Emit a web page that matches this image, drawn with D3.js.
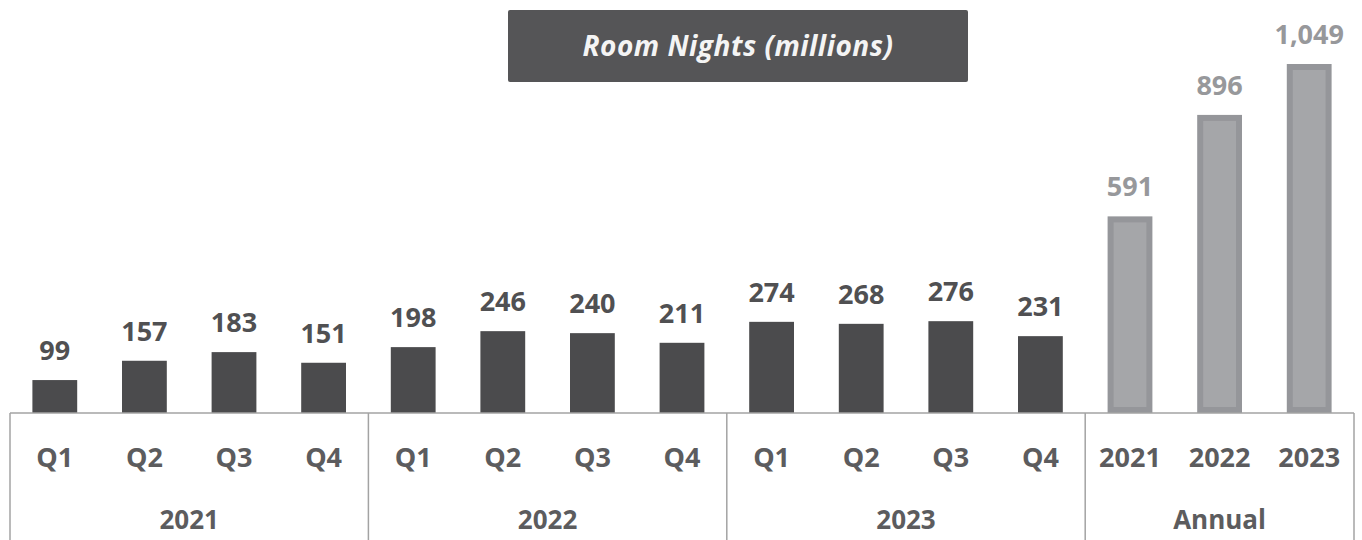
<!DOCTYPE html>
<html>
<head>
<meta charset="utf-8">
<script src="https://cdn.jsdelivr.net/npm/d3@7"></script>
<style>
  body { margin: 0; background: #fff; }
  svg { display: block; font-family: 'Open Sans', sans-serif; }
</style>
</head>
<body>
<svg id="chart"></svg>
<script>
// data
const periods = ['Q1', 'Q2', 'Q3', 'Q4', 'Q1', 'Q2', 'Q3', 'Q4', 'Q1', 'Q2', 'Q3', 'Q4', '2021', '2022', '2023']
const roomNights = [99, 157, 183, 151, 198, 246, 240, 211, 274, 268, 276, 231, 591, 896, 1049]
const groups = ['2021', '2022', '2023', 'Annual']
const groupSizes = [4, 4, 4, 3]
const annualFrom = 12 // index where the annual bars start

const width = 1362
const height = 540
const left = 10
const right = 1354
const baseline = 413

const svg = d3.select('#chart').attr('width', width).attr('height', height)

const x = d3.scaleBand()
  .domain(d3.range(roomNights.length))
  .range([left, right])
  .paddingInner(0.5)
  .paddingOuter(0.25)

const y = d3.scaleLinear()
  .domain([0, 1049])
  .range([baseline, 64])

const fmt = d3.format(',')

// title box
svg.append('rect')
  .attr('x', 508).attr('y', 10)
  .attr('width', 460).attr('height', 72)
  .attr('rx', 2)
  .attr('fill', '#555557')
svg.append('text')
  .attr('x', 738).attr('y', 46)
  .attr('dy', '0.35em')
  .attr('text-anchor', 'middle')
  .attr('fill', '#f4f4f4')
  .attr('font-size', 28)
  .attr('font-style', 'italic')
  .attr('font-weight', 700)
  .attr('letter-spacing', 0.5)
  .text('Room Nights (millions)')

// quarterly bars
svg.selectAll('rect.bar')
  .data(roomNights.slice(0, annualFrom))
  .join('rect')
  .attr('class', 'bar')
  .attr('x', (d, i) => x(i))
  .attr('y', d => y(d))
  .attr('width', x.bandwidth())
  .attr('height', d => baseline - y(d))
  .attr('fill', '#4b4b4d')

// annual bars, lighter with a darker rim kept inside the bar
const sw = 6
svg.selectAll('rect.annual')
  .data(roomNights.slice(annualFrom))
  .join('rect')
  .attr('class', 'annual')
  .attr('x', (d, i) => x(i + annualFrom) + sw / 2)
  .attr('y', d => y(d) + sw / 2)
  .attr('width', x.bandwidth() - sw)
  .attr('height', d => baseline - y(d) - sw)
  .attr('fill', '#a5a6a9')
  .attr('stroke', '#95969a')
  .attr('stroke-width', sw)

// value labels
svg.selectAll('text.value')
  .data(roomNights)
  .join('text')
  .attr('class', 'value')
  .attr('x', (d, i) => x(i) + x.bandwidth() / 2)
  .attr('y', d => y(d) - 20)
  .attr('text-anchor', 'middle')
  .attr('font-size', 27)
  .attr('font-weight', 700)
  .attr('fill', (d, i) => i >= annualFrom ? '#97989b' : '#505052')
  .text(d => fmt(d))

// category axis box
const axis = svg.append('g')
axis.append('line')
  .attr('x1', left).attr('x2', right)
  .attr('y1', baseline).attr('y2', baseline)
  .attr('stroke', '#a3a3a3').attr('stroke-width', 1.5)

let start = 0
const edges = [left]
groupSizes.forEach(n => {
  start += n
  edges.push(start === roomNights.length ? right : left + start * x.step())
})
axis.selectAll('line.divider')
  .data(edges)
  .join('line')
  .attr('class', 'divider')
  .attr('x1', d => d).attr('x2', d => d)
  .attr('y1', baseline).attr('y2', height)
  .attr('stroke', '#a3a3a3').attr('stroke-width', 1.5)

axis.selectAll('text.period')
  .data(periods)
  .join('text')
  .attr('class', 'period')
  .attr('x', (d, i) => x(i) + x.bandwidth() / 2)
  .attr('y', 458)
  .attr('dy', '0.35em')
  .attr('text-anchor', 'middle')
  .attr('font-size', 27)
  .attr('font-weight', 700)
  .attr('fill', '#5c5c5e')
  .text(d => d)

axis.selectAll('text.group')
  .data(groups)
  .join('text')
  .attr('class', 'group')
  .attr('x', (d, i) => (edges[i] + edges[i + 1]) / 2)
  .attr('y', 520)
  .attr('dy', '0.35em')
  .attr('text-anchor', 'middle')
  .attr('font-size', 26)
  .attr('font-weight', 700)
  .attr('fill', '#5c5c5e')
  .text(d => d)
</script>
</body>
</html>
